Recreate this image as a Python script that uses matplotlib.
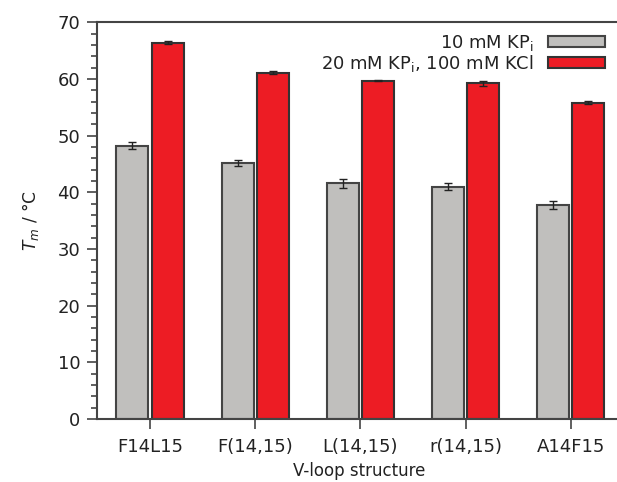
import matplotlib
matplotlib.use("Agg")
import matplotlib.pyplot as plt
import numpy as np
from matplotlib.ticker import MultipleLocator

structures = ["F14L15", "F(14,15)", "L(14,15)", "r(14,15)", "A14F15"]
tm_low = [48.2, 45.1, 41.6, 41.0, 37.7]
tm_low_err = [0.6, 0.5, 0.8, 0.6, 0.7]
tm_high = [66.4, 61.1, 59.7, 59.2, 55.8]
tm_high_err = [0.3, 0.2, 0.15, 0.5, 0.3]

x = np.arange(len(structures))
width = 0.305
edge = "#444444"
errkw = dict(ecolor="#222222", elinewidth=1, capsize=3, capthick=1)

fig = plt.figure(figsize=(6.17, 4.82), dpi=100)
ax = fig.add_axes([0.157, 0.131, 0.85, 0.823])

ax.bar(x - 0.167, tm_low, width, yerr=tm_low_err, color="#c0bfbd",
       edgecolor=edge, linewidth=1.5, label=r"10 mM KP$_\mathregular{i}$",
       error_kw=errkw)
ax.bar(x + 0.167, tm_high, width, yerr=tm_high_err, color="#ed1c24",
       edgecolor="#333333", linewidth=1.5,
       label=r"20 mM KP$_\mathregular{i}$, 100 mM KCl", error_kw=errkw)

ax.set_xlim(-0.505, 4.48)
ax.set_ylim(0, 70)
ax.set_xticks(x)
ax.set_xticklabels(structures)
ax.yaxis.set_major_locator(MultipleLocator(10))
ax.yaxis.set_minor_locator(MultipleLocator(2))
ax.tick_params(axis="both", which="major", labelsize=13, length=7,
               width=1.2, color="#444444", labelcolor="#222222", pad=5)
ax.tick_params(axis="y", which="minor", length=4, width=1.2, color="#444444")
ax.tick_params(axis="x", pad=7)
for side in ["left", "bottom", "top", "right"]:
    ax.spines[side].set_color("#444444")
    ax.spines[side].set_linewidth(1.5)

ax.set_ylabel(r"$T_m$ / °C", fontsize=12.3, color="#222222", labelpad=12)
ax.set_xlabel("V-loop structure", fontsize=12, color="#222222", labelpad=4)

leg = ax.legend(loc="upper right", bbox_to_anchor=(0.99, 1.0), frameon=False,
                markerfirst=False, fontsize=12.9, handlelength=3.2,
                handleheight=0.6, handletextpad=0.8, labelspacing=0.0,
                borderaxespad=0.2)
for t in leg.get_texts():
    t.set_color("#222222")

fig.savefig("out.png", dpi=100)
